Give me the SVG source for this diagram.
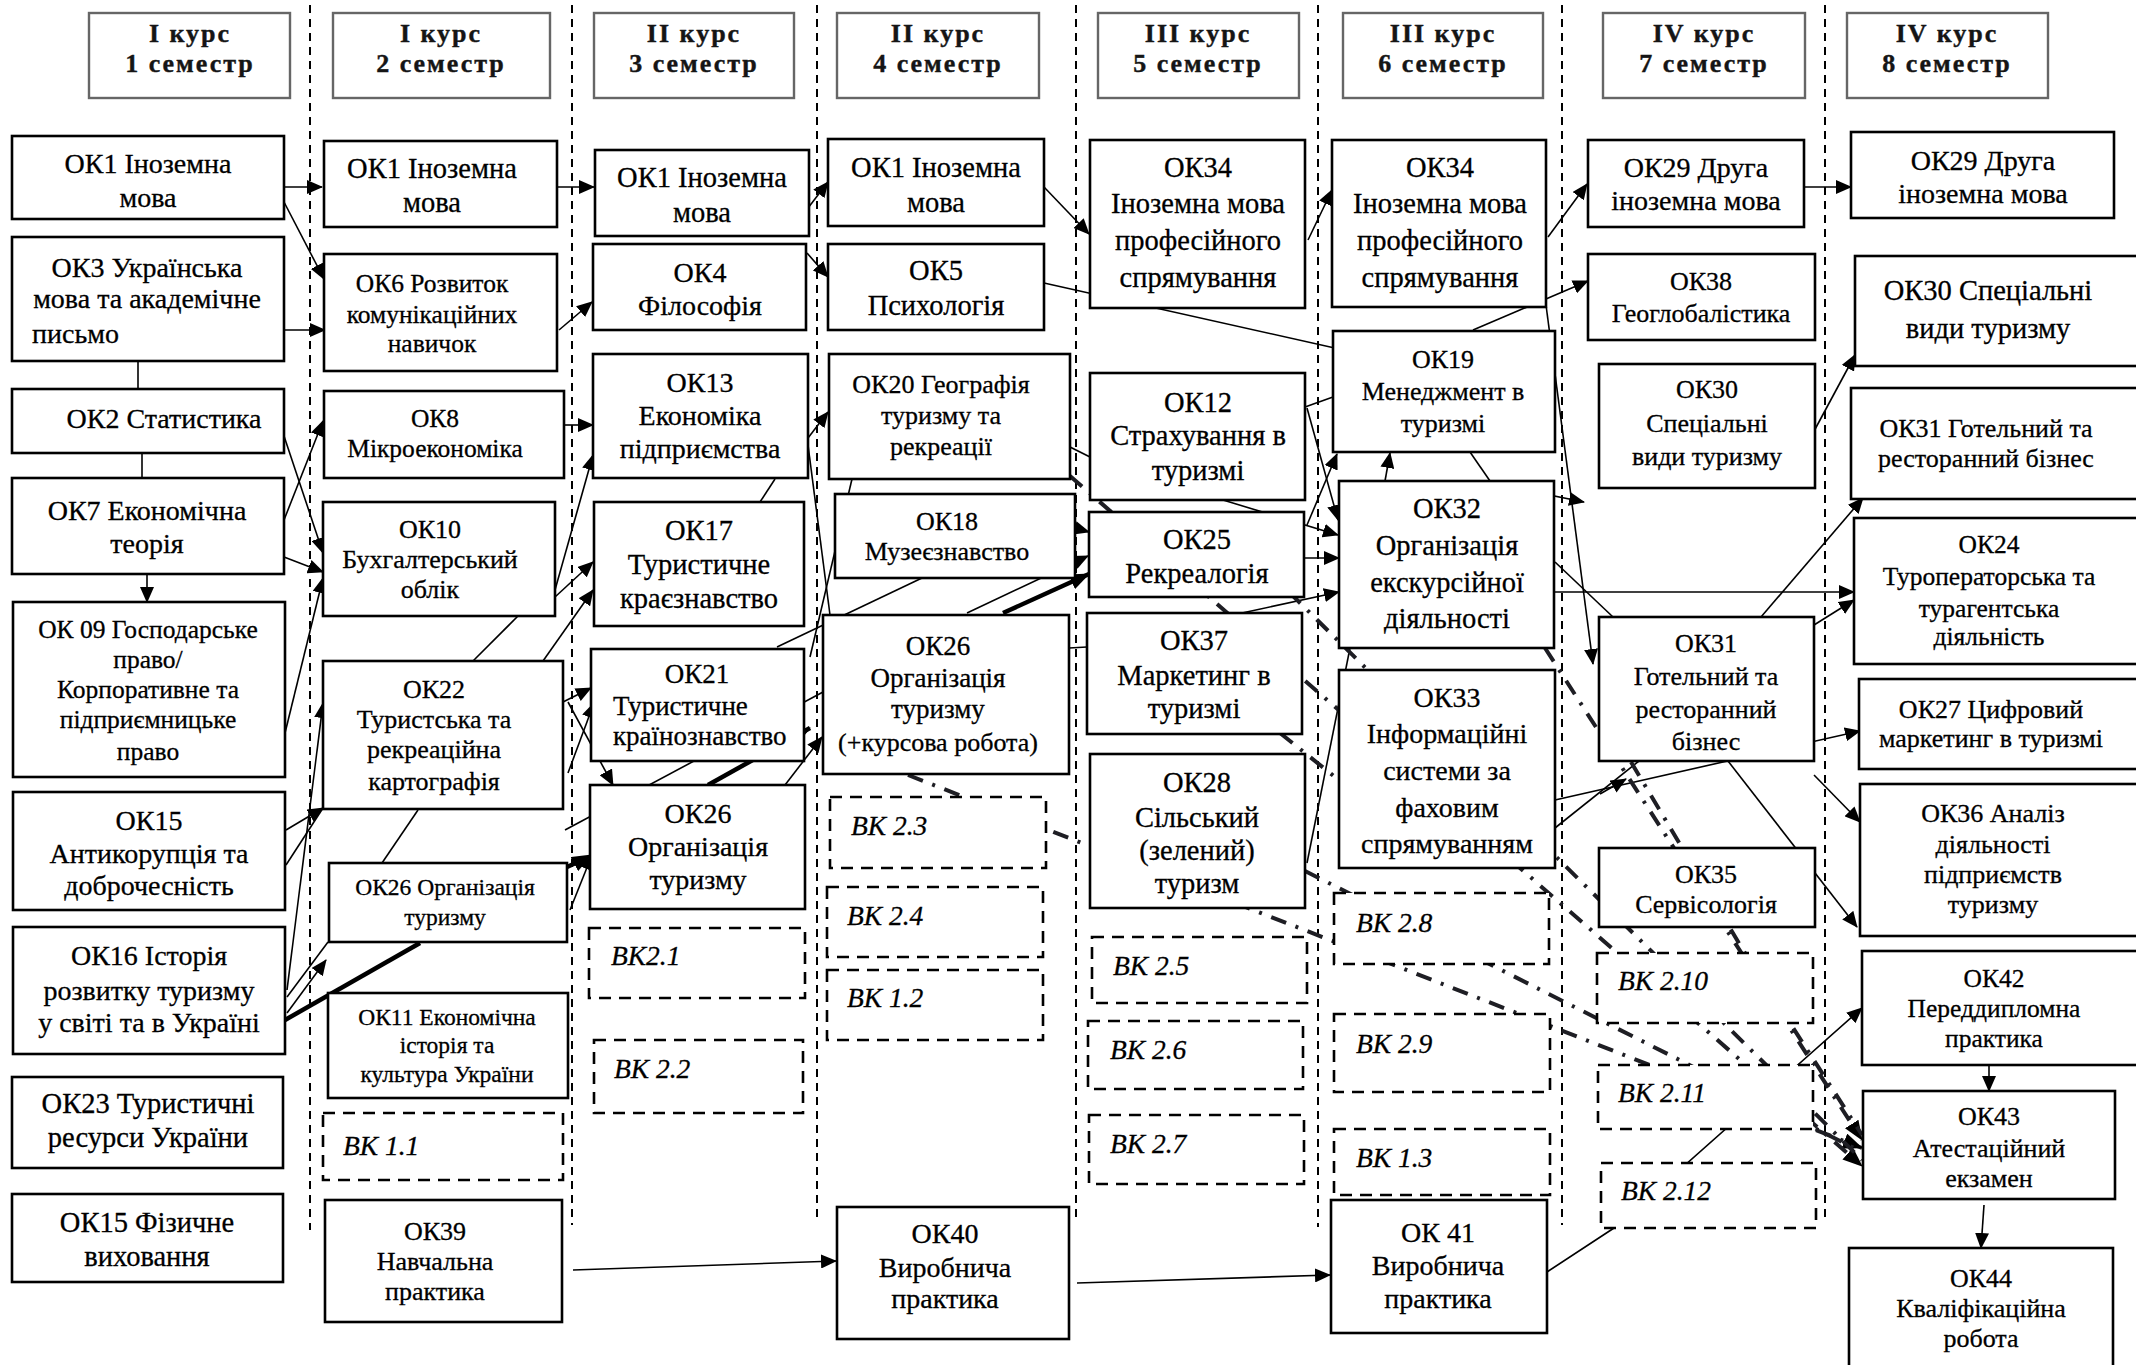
<svg xmlns="http://www.w3.org/2000/svg" width="2136" height="1365" viewBox="0 0 2136 1365">
<defs>
<marker id="ah" markerUnits="userSpaceOnUse" markerWidth="16" markerHeight="14" refX="15" refY="7" orient="auto"><path d="M0,0 L16,7 L0,14 z" fill="#000"/></marker>
<marker id="ahb" markerUnits="userSpaceOnUse" markerWidth="20" markerHeight="16" refX="19" refY="8" orient="auto"><path d="M0,0 L20,8 L0,16 z" fill="#000"/></marker>
<style>
.n rect{fill:#fff;stroke:#000;stroke-width:2.6}
.v rect{fill:#fff;stroke:#000;stroke-width:2.6;stroke-dasharray:12 8}
.h rect{fill:#fff;stroke:#666;stroke-width:2.4}
text{font-family:"Liberation Serif","Times New Roman",serif;font-size:26px;fill:#000;stroke:#000;stroke-width:0.3;text-anchor:middle}
.h text{font-weight:bold;font-size:26px;letter-spacing:2px;fill:#151515;stroke:#151515;stroke-width:0.4}
.v text{font-style:italic;text-anchor:start;font-size:27.5px}
.z24 text{font-size:23.5px}
.z25 text{font-size:25.5px}
.z27 text{font-size:27px}
.z28 text{font-size:28px}
.z29 text{font-size:28.5px}
.div{stroke:#000;stroke-width:2;stroke-dasharray:8 6;fill:none}
.c{stroke:#000;stroke-width:1.6;fill:none}
.a{marker-end:url(#ah)}
.t{stroke:#000;stroke-width:4.5;fill:none}
.dd{stroke:#1e1e24;stroke-width:4;fill:none;stroke-dasharray:16 10 3 10}
</style>
</defs>
<rect width="2136" height="1365" fill="#fff"/>

<g id="dividers">
<line class="div" x1="310" y1="5" x2="310" y2="1230"/>
<line class="div" x1="572" y1="5" x2="572" y2="1225"/>
<line class="div" x1="817" y1="5" x2="817" y2="1222"/>
<line class="div" x1="1076" y1="5" x2="1076" y2="1222"/>
<line class="div" x1="1318" y1="5" x2="1318" y2="1227"/>
<line class="div" x1="1562" y1="5" x2="1562" y2="1225"/>
<line class="div" x1="1825" y1="5" x2="1825" y2="1223"/>
</g>

<g id="headers" class="h">
<g id="h1"><rect x="89" y="13" width="201" height="85"/><text x="190" y="42">I курс</text><text x="190" y="72">1 семестр</text></g>
<g id="h2"><rect x="333" y="13" width="217" height="85"/><text x="441" y="42">I курс</text><text x="441" y="72">2 семестр</text></g>
<g id="h3"><rect x="594" y="13" width="200" height="85"/><text x="694" y="42">II курс</text><text x="694" y="72">3 семестр</text></g>
<g id="h4"><rect x="837" y="13" width="202" height="85"/><text x="938" y="42">II курс</text><text x="938" y="72">4 семестр</text></g>
<g id="h5"><rect x="1098" y="13" width="201" height="85"/><text x="1198" y="42">III курс</text><text x="1198" y="72">5 семестр</text></g>
<g id="h6"><rect x="1343" y="13" width="200" height="85"/><text x="1443" y="42">III курс</text><text x="1443" y="72">6 семестр</text></g>
<g id="h7"><rect x="1603" y="13" width="202" height="85"/><text x="1704" y="42">IV курс</text><text x="1704" y="72">7 семестр</text></g>
<g id="h8"><rect x="1847" y="13" width="201" height="85"/><text x="1947" y="42">IV курс</text><text x="1947" y="72">8 семестр</text></g>
</g>

<g id="connectors">
<line class="c a" x1="284" y1="187" x2="322" y2="187"/>
<line class="c a" x1="284" y1="202" x2="324" y2="279"/>
<line class="c a" x1="284" y1="330" x2="325" y2="330"/>
<line class="c" x1="138" y1="361" x2="138" y2="389"/>
<line class="c" x1="142" y1="453" x2="142" y2="478"/>
<line class="c a" x1="284" y1="436" x2="323" y2="553"/>
<line class="c a" x1="284" y1="520" x2="323" y2="421"/>
<line class="c a" x1="284" y1="557" x2="323" y2="572"/>
<line class="c a" x1="285" y1="733" x2="323" y2="578"/>
<line class="c a" x1="147" y1="574" x2="147" y2="602"/>
<line class="c a" x1="286" y1="830" x2="323" y2="808"/>
<line class="c" x1="286" y1="865" x2="323" y2="808"/>
<line class="c a" x1="287" y1="990" x2="323" y2="703"/>
<line class="c" x1="287" y1="997" x2="328" y2="942"/>
<line class="c a" x1="287" y1="1013" x2="326" y2="960"/>
<line class="t" x1="285" y1="1020" x2="420" y2="943"/>
<line class="c" x1="518" y1="616" x2="473" y2="661"/>
<line class="c" x1="418" y1="810" x2="382" y2="863"/>
<line class="c a" x1="557" y1="187" x2="594" y2="187"/>
<line class="c a" x1="559" y1="330" x2="592" y2="302"/>
<line class="c a" x1="564" y1="425" x2="593" y2="425"/>
<line class="c a" x1="555" y1="590" x2="593" y2="455"/>
<line class="c a" x1="555" y1="597" x2="593" y2="562"/>
<line class="c a" x1="543" y1="661" x2="593" y2="590"/>
<line class="c a" x1="563" y1="702" x2="591" y2="688"/>
<line class="c a" x1="568" y1="702" x2="613" y2="785"/>
<line class="c a" x1="568" y1="773" x2="594" y2="703"/>
<line class="c" x1="565" y1="830" x2="823" y2="692"/>
<line class="t" x1="567" y1="867" x2="580" y2="861"/>
<line class="c" x1="580" y1="861" x2="591" y2="855" marker-end="url(#ahb)"/>
<line class="c a" x1="570" y1="910" x2="592" y2="855"/>
<line class="c" x1="775" y1="479" x2="760" y2="502"/>
<line class="c" x1="777" y1="647" x2="922" y2="578"/>
<line class="c a" x1="785" y1="785" x2="822" y2="737"/>
<line class="t" x1="708" y1="785" x2="810" y2="728" marker-end="url(#ahb)"/>
<line class="c a" x1="808" y1="438" x2="828" y2="412"/>
<line class="c a" x1="808" y1="208" x2="828" y2="182"/>
<line class="c a" x1="807" y1="253" x2="828" y2="277"/>
<line class="c" x1="808" y1="445" x2="830" y2="615"/>
<line class="c" x1="852" y1="479" x2="810" y2="657"/>
<line class="c a" x1="967" y1="613" x2="1088" y2="556"/>
<line class="t" x1="1003" y1="613" x2="1089" y2="574" marker-end="url(#ahb)"/>
<line class="c a" x1="1075" y1="528" x2="1089" y2="532"/>
<line class="c a" x1="1044" y1="283" x2="1357" y2="353"/>
<line class="c a" x1="1044" y1="187" x2="1089" y2="234"/>
<line class="c a" x1="1308" y1="240" x2="1332" y2="190"/>
<line class="c a" x1="1548" y1="237" x2="1587" y2="184"/>
<line class="c a" x1="1473" y1="330" x2="1588" y2="281"/>
<line class="c" x1="1305" y1="407" x2="1333" y2="397"/>
<line class="c a" x1="1307" y1="408" x2="1338" y2="520"/>
<line class="c a" x1="1307" y1="525" x2="1337" y2="454"/>
<line class="c a" x1="1223" y1="500" x2="1338" y2="535"/>
<line class="c a" x1="1304" y1="558" x2="1339" y2="558"/>
<line class="c a" x1="1242" y1="613" x2="1339" y2="592"/>
<line class="c" x1="1307" y1="863" x2="1350" y2="648"/>
<line class="c a" x1="1385" y1="481" x2="1390" y2="453"/>
<line class="c" x1="1470" y1="452" x2="1490" y2="481"/>
<line class="c" x1="1069" y1="648" x2="1087" y2="647"/>
<line class="c" x1="1070" y1="447" x2="1090" y2="457"/>
<line class="c a" x1="1804" y1="187" x2="1851" y2="187"/>
<line class="c a" x1="1813" y1="433" x2="1855" y2="355"/>
<line class="c a" x1="1761" y1="617" x2="1863" y2="498"/>
<line class="c a" x1="1554" y1="592" x2="1854" y2="592"/>
<line class="c a" x1="1814" y1="625" x2="1854" y2="600"/>
<line class="c a" x1="1555" y1="800" x2="1860" y2="731"/>
<line class="c" x1="1555" y1="828" x2="1639" y2="761"/>
<line class="c a" x1="1600" y1="794" x2="1626" y2="779"/>
<line class="c a" x1="1814" y1="775" x2="1860" y2="822"/>
<line class="c a" x1="1728" y1="761" x2="1857" y2="927"/>
<line class="c a" x1="1546" y1="305" x2="1593" y2="664"/>
<line class="c a" x1="1500" y1="485" x2="1584" y2="502"/>
<line class="c" x1="1555" y1="562" x2="1613" y2="617"/>
<polyline class="c a" points="1547,1272 1614,1228 1862,1008"/>
<line class="c a" x1="573" y1="1270" x2="836" y2="1261"/>
<line class="c a" x1="1077" y1="1283" x2="1330" y2="1275"/>
<line class="c a" x1="1989" y1="1065" x2="1989" y2="1091"/>
<line class="c a" x1="1984" y1="1205" x2="1981" y2="1248"/>
<line class="dd" x1="908" y1="775" x2="1862" y2="1148" marker-end="url(#ahb)"/>
<line class="dd" x1="1070" y1="476" x2="1862" y2="1166" marker-end="url(#ahb)"/>
<line class="dd" x1="1289" y1="592" x2="1862" y2="1160"/>
<line class="dd" x1="1545" y1="648" x2="1862" y2="1140" marker-end="url(#ahb)"/>
<polyline class="dd" points="1631,762 1743,950 1862,1135"/>
<line class="dd" x1="1280" y1="733" x2="1345" y2="785"/>
<line class="dd" x1="1305" y1="871" x2="1862" y2="1152"/>
</g>

<g id="nodes">
<g id="ok1-s1" class="n z28"><rect x="12" y="136" width="272" height="83"/><text x="148" y="173">ОК1 Іноземна</text><text x="148" y="207">мова</text></g>
<g id="ok3" class="n z28"><rect x="12" y="237" width="272" height="124"/><text x="147" y="277">ОК3 Українська</text><text x="147" y="308">мова та академічне</text><text x="32" y="343" style="text-anchor:start">письмо</text></g>
<g id="ok2" class="n z28"><rect x="12" y="389" width="272" height="64"/><text x="164" y="428">ОК2 Статистика</text></g>
<g id="ok7" class="n z28"><rect x="12" y="478" width="272" height="96"/><text x="147" y="520">ОК7 Економічна</text><text x="147" y="553">теорія</text></g>
<g id="ok9" class="n z25"><rect x="13" y="602" width="272" height="175"/><text x="148" y="638">ОК 09 Господарське</text><text x="148" y="668">право/</text><text x="148" y="698">Корпоративне та</text><text x="148" y="728">підприємницьке</text><text x="148" y="760">право</text></g>
<g id="ok15-s1" class="n z28"><rect x="13" y="792" width="272" height="118"/><text x="149" y="830">ОК15</text><text x="149" y="863">Антикорупція та</text><text x="149" y="895">доброчесність</text></g>
<g id="ok16" class="n z28"><rect x="13" y="927" width="272" height="127"/><text x="149" y="965">ОК16 Історія</text><text x="149" y="1000">розвитку туризму</text><text x="149" y="1032">у світі та в Україні</text></g>
<g id="ok23" class="n z29"><rect x="12" y="1077" width="271" height="91"/><text x="148" y="1113">ОК23 Туристичні</text><text x="148" y="1147">ресурси України</text></g>
<g id="ok15-fiz" class="n z29"><rect x="12" y="1194" width="271" height="88"/><text x="147" y="1232">ОК15 Фізичне</text><text x="147" y="1266">виховання</text></g>

<g id="ok1-s2" class="n z29"><rect x="324" y="141" width="233" height="86"/><text x="432" y="178">ОК1 Іноземна</text><text x="432" y="212">мова</text></g>
<g id="ok6" class="n z25"><rect x="324" y="254" width="233" height="117"/><text x="432" y="292">ОК6 Розвиток</text><text x="432" y="323">комунікаційних</text><text x="432" y="352">навичок</text></g>
<g id="ok8" class="n z25"><rect x="324" y="391" width="240" height="87"/><text x="435" y="427">ОК8</text><text x="435" y="457">Мікроекономіка</text></g>
<g id="ok10" class="n"><rect x="323" y="502" width="232" height="114"/><text x="430" y="538">ОК10</text><text x="430" y="568">Бухгалтерський</text><text x="430" y="598">облік</text></g>
<g id="ok22" class="n"><rect x="323" y="661" width="240" height="148"/><text x="434" y="698">ОК22</text><text x="434" y="728">Туристська та</text><text x="434" y="758">рекреаційна</text><text x="434" y="790">картографія</text></g>
<g id="ok26-s2" class="n z24"><rect x="329" y="863" width="238" height="79"/><text x="445" y="895">ОК26 Організація</text><text x="445" y="925">туризму</text></g>
<g id="ok11" class="n z24"><rect x="328" y="993" width="240" height="105"/><text x="447" y="1025">ОК11 Економічна</text><text x="447" y="1053">історія та</text><text x="447" y="1082">культура України</text></g>
<g id="vk1-1" class="v"><rect x="323" y="1113" width="240" height="67"/><text x="343" y="1155">ВК 1.1</text></g>
<g id="ok39" class="n"><rect x="325" y="1200" width="237" height="122"/><text x="435" y="1240">ОК39</text><text x="435" y="1270">Навчальна</text><text x="435" y="1300">практика</text></g>

<g id="ok1-s3" class="n z29"><rect x="595" y="150" width="214" height="86"/><text x="702" y="187">ОК1 Іноземна</text><text x="702" y="222">мова</text></g>
<g id="ok4" class="n z28"><rect x="593" y="244" width="213" height="86"/><text x="700" y="282">ОК4</text><text x="700" y="315">Філософія</text></g>
<g id="ok13" class="n z28"><rect x="593" y="354" width="215" height="124"/><text x="700" y="392">ОК13</text><text x="700" y="425">Економіка</text><text x="700" y="458">підприємства</text></g>
<g id="ok17" class="n z29"><rect x="594" y="502" width="210" height="124"/><text x="699" y="540">ОК17</text><text x="699" y="574">Туристичне</text><text x="699" y="608">краєзнавство</text></g>
<g id="ok21" class="n z27"><rect x="591" y="649" width="213" height="112"/><text x="697" y="683">ОК21</text><text x="613" y="715" style="text-anchor:start">Туристичне</text><text x="613" y="745" style="text-anchor:start">країнознавство</text></g>
<g id="ok26-s3" class="n z28"><rect x="590" y="785" width="215" height="124"/><text x="698" y="823">ОК26</text><text x="698" y="856">Організація</text><text x="698" y="889">туризму</text></g>
<g id="vk2-1" class="v"><rect x="589" y="928" width="216" height="70"/><text x="611" y="965">ВК2.1</text></g>
<g id="vk2-2" class="v"><rect x="594" y="1040" width="209" height="73"/><text x="614" y="1078">ВК 2.2</text></g>

<g id="ok1-s4" class="n z29"><rect x="828" y="139" width="216" height="87"/><text x="936" y="177">ОК1 Іноземна</text><text x="936" y="212">мова</text></g>
<g id="ok5" class="n z29"><rect x="828" y="244" width="216" height="86"/><text x="936" y="280">ОК5</text><text x="936" y="315">Психологія</text></g>
<g id="ok20" class="n"><rect x="829" y="354" width="241" height="125"/><text x="941" y="393">ОК20 Географія</text><text x="941" y="424">туризму та</text><text x="941" y="455">рекреації</text></g>
<g id="ok18" class="n"><rect x="835" y="494" width="240" height="84"/><text x="947" y="530">ОК18</text><text x="947" y="560">Музеєзнавство</text></g>
<g id="ok26-s4" class="n z27"><rect x="823" y="615" width="246" height="159"/><text x="938" y="655">ОК26</text><text x="938" y="687">Організація</text><text x="938" y="718">туризму</text><text x="938" y="751" style="font-size:26px">(+курсова робота)</text></g>
<g id="vk2-3" class="v"><rect x="830" y="797" width="216" height="71"/><text x="851" y="835">ВК 2.3</text></g>
<g id="vk2-4" class="v"><rect x="827" y="887" width="216" height="70"/><text x="847" y="925">ВК 2.4</text></g>
<g id="vk1-2" class="v"><rect x="827" y="970" width="216" height="70"/><text x="847" y="1007">ВК 1.2</text></g>
<g id="ok40" class="n z28"><rect x="837" y="1207" width="232" height="132"/><text x="945" y="1243">ОК40</text><text x="945" y="1277">Виробнича</text><text x="945" y="1308">практика</text></g>

<g id="ok34-s5" class="n z29"><rect x="1090" y="140" width="215" height="168"/><text x="1198" y="177">ОК34</text><text x="1198" y="213">Іноземна мова</text><text x="1198" y="250">професійного</text><text x="1198" y="287">спрямування</text></g>
<g id="ok12" class="n z29"><rect x="1090" y="373" width="215" height="127"/><text x="1198" y="412">ОК12</text><text x="1198" y="445">Страхування в</text><text x="1198" y="480">туризмі</text></g>
<g id="ok25" class="n z29"><rect x="1089" y="512" width="215" height="85"/><text x="1197" y="549">ОК25</text><text x="1197" y="583">Рекреалогія</text></g>
<g id="ok37" class="n z29"><rect x="1087" y="613" width="215" height="121"/><text x="1194" y="650">ОК37</text><text x="1194" y="685">Маркетинг в</text><text x="1194" y="718">туризмі</text></g>
<g id="ok28" class="n z29"><rect x="1090" y="754" width="215" height="154"/><text x="1197" y="792">ОК28</text><text x="1197" y="827">Сільський</text><text x="1197" y="860">(зелений)</text><text x="1197" y="893">туризм</text></g>
<g id="vk2-5" class="v"><rect x="1092" y="937" width="215" height="66"/><text x="1113" y="975">ВК 2.5</text></g>
<g id="vk2-6" class="v"><rect x="1088" y="1021" width="215" height="68"/><text x="1110" y="1059">ВК 2.6</text></g>
<g id="vk2-7" class="v"><rect x="1089" y="1115" width="215" height="69"/><text x="1110" y="1153">ВК 2.7</text></g>

<g id="ok34-s6" class="n z29"><rect x="1332" y="140" width="214" height="167"/><text x="1440" y="177">ОК34</text><text x="1440" y="213">Іноземна мова</text><text x="1440" y="250">професійного</text><text x="1440" y="287">спрямування</text></g>
<g id="ok19" class="n"><rect x="1333" y="331" width="222" height="121"/><text x="1443" y="368">ОК19</text><text x="1443" y="400">Менеджмент в</text><text x="1443" y="432">туризмі</text></g>
<g id="ok32" class="n z29"><rect x="1339" y="481" width="215" height="167"/><text x="1447" y="518">ОК32</text><text x="1447" y="555">Організація</text><text x="1447" y="592">екскурсійної</text><text x="1447" y="628">діяльності</text></g>
<g id="ok33" class="n z28"><rect x="1339" y="670" width="216" height="198"/><text x="1447" y="707">ОК33</text><text x="1447" y="743">Інформаційні</text><text x="1447" y="780">системи за</text><text x="1447" y="817">фаховим</text><text x="1447" y="853">спрямуванням</text></g>
<g id="vk2-8" class="v"><rect x="1334" y="893" width="215" height="71"/><text x="1356" y="932">ВК 2.8</text></g>
<g id="vk2-9" class="v"><rect x="1334" y="1014" width="216" height="78"/><text x="1356" y="1053">ВК 2.9</text></g>
<g id="vk1-3" class="v"><rect x="1334" y="1129" width="216" height="66"/><text x="1356" y="1167">ВК 1.3</text></g>
<g id="ok41" class="n z28"><rect x="1331" y="1200" width="216" height="133"/><text x="1438" y="1242">ОК 41</text><text x="1438" y="1275">Виробнича</text><text x="1438" y="1308">практика</text></g>

<g id="ok29-s7" class="n z28"><rect x="1588" y="140" width="216" height="87"/><text x="1696" y="177">ОК29 Друга</text><text x="1696" y="210">іноземна мова</text></g>
<g id="ok38" class="n"><rect x="1588" y="254" width="227" height="86"/><text x="1701" y="290">ОК38</text><text x="1701" y="322">Геоглобалістика</text></g>
<g id="ok30-s7" class="n"><rect x="1599" y="364" width="216" height="124"/><text x="1707" y="398">ОК30</text><text x="1707" y="432">Спеціальні</text><text x="1707" y="465">види туризму</text></g>
<g id="ok31-s7" class="n"><rect x="1599" y="617" width="215" height="144"/><text x="1706" y="652">ОК31</text><text x="1706" y="685">Готельний та</text><text x="1706" y="718">ресторанний</text><text x="1706" y="750">бізнес</text></g>
<g id="ok35" class="n"><rect x="1599" y="848" width="216" height="79"/><text x="1706" y="883">ОК35</text><text x="1706" y="913">Сервісологія</text></g>
<g id="vk2-10" class="v"><rect x="1597" y="953" width="216" height="70"/><text x="1618" y="990">ВК 2.10</text></g>
<g id="vk2-11" class="v"><rect x="1598" y="1065" width="215" height="64"/><text x="1618" y="1102">ВК 2.11</text></g>
<g id="vk2-12" class="v"><rect x="1601" y="1163" width="215" height="65"/><text x="1621" y="1200">ВК 2.12</text></g>

<g id="ok29-s8" class="n z28"><rect x="1851" y="132" width="263" height="86"/><text x="1983" y="170">ОК29 Друга</text><text x="1983" y="203">іноземна мова</text></g>
<g id="ok30-s8" class="n z29"><rect x="1855" y="256" width="290" height="110"/><text x="1988" y="300">ОК30 Спеціальні</text><text x="1988" y="338">види туризму</text></g>
<g id="ok31-s8" class="n"><rect x="1851" y="388" width="290" height="111"/><text x="1986" y="437">ОК31 Готельний та</text><text x="1986" y="467">ресторанний бізнес</text></g>
<g id="ok24" class="n z25"><rect x="1854" y="518" width="290" height="146"/><text x="1989" y="553">ОК24</text><text x="1989" y="585">Туроператорська та</text><text x="1989" y="617">турагентська</text><text x="1989" y="645">діяльність</text></g>
<g id="ok27" class="n"><rect x="1859" y="679" width="290" height="90"/><text x="1991" y="718">ОК27 Цифровий</text><text x="1991" y="747">маркетинг в туризмі</text></g>
<g id="ok36" class="n"><rect x="1860" y="784" width="290" height="152"/><text x="1993" y="822">ОК36 Аналіз</text><text x="1993" y="853">діяльності</text><text x="1993" y="883">підприємств</text><text x="1993" y="913">туризму</text></g>
<g id="ok42" class="n z25"><rect x="1862" y="951" width="290" height="114"/><text x="1994" y="987">ОК42</text><text x="1994" y="1017">Переддипломна</text><text x="1994" y="1047">практика</text></g>
<g id="ok43" class="n"><rect x="1863" y="1091" width="252" height="108"/><text x="1989" y="1125">ОК43</text><text x="1989" y="1157">Атестаційний</text><text x="1989" y="1187">екзамен</text></g>
<g id="ok44" class="n"><rect x="1849" y="1248" width="264" height="140"/><text x="1981" y="1287">ОК44</text><text x="1981" y="1317">Кваліфікаційна</text><text x="1981" y="1347">робота</text></g>
</g>
</svg>
